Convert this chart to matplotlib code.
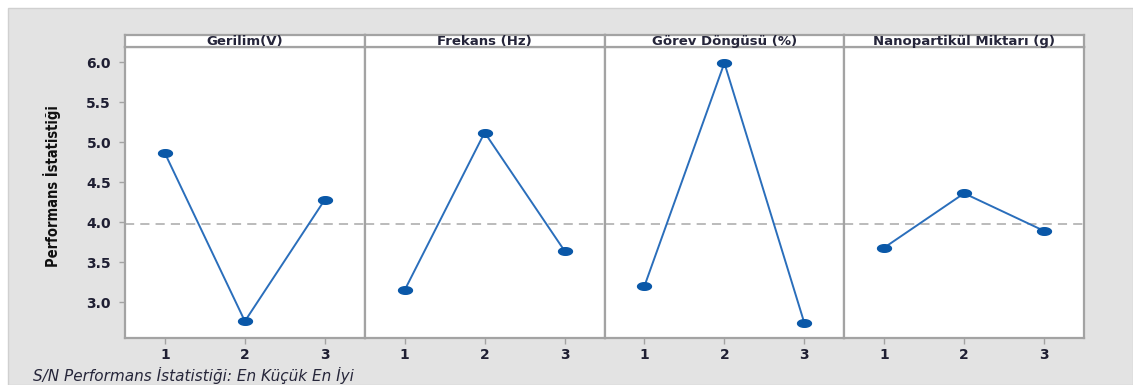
import numpy as np
import matplotlib
matplotlib.use("Agg")
import matplotlib.pyplot as plt
from matplotlib.path import Path
from matplotlib.patches import Rectangle

# Factor names and level labels
factors = ["Gerilim(V)", "Frekans (Hz)", "Görev Döngüsü (%)", "Nanopartikül Miktarı (g)"]
levels = [1, 2, 3]

# Mean S/N ratio per factor level
sn_gerilim = [4.86, 2.76, 4.28]
sn_frekans = [3.15, 5.12, 3.64]
sn_gorev = [3.20, 5.99, 2.74]
sn_nano = [3.68, 4.36, 3.89]
series = [sn_gerilim, sn_frekans, sn_gorev, sn_nano]

y_ticks = [3.0, 3.5, 4.0, 4.5, 5.0, 5.5, 6.0]
y_label = "Performans İstatistiği"
footer = "S/N Performans İstatistiği: En Küçük En İyi"

grand_mean = np.mean([v for s in series for v in s])

W, H = 1133, 385
fig = plt.figure(figsize=(W / 100, H / 100), dpi=100)
fig.patch.set_facecolor("white")

# grey panel background
bg = Rectangle((8 / W, 0), 1 - 8 / W, 1 - 8 / H, transform=fig.transFigure,
               facecolor="#e3e3e3", edgecolor="#d0d0d0", lw=1.0, zorder=-10)
fig.patches.append(bg)

frame_col = "#a3a3a3"
line_col = "#2a6ebb"
mark_col = "#0a58a8"
tick_col = "#1f1f33"

# horizontal ellipse marker
t = np.linspace(0, 2 * np.pi, 40)
ell = Path(np.column_stack([np.cos(t), 0.55 * np.sin(t)]), closed=True)

left_px, right_px = 125, 1084
bot_px, top_px, strip_top_px = 338, 47, 35
pw = (right_px - left_px) / 4

for i, (name, vals) in enumerate(zip(factors, series)):
    x0 = (left_px + i * pw) / W
    ax = fig.add_axes([x0, 1 - bot_px / H, pw / W, (bot_px - top_px) / H])
    ax.set_facecolor("white")
    ax.plot(levels, vals, color=line_col, lw=1.4, zorder=3)
    ax.plot(levels, vals, ls="none", marker=ell, ms=10, color=mark_col, zorder=4)
    ax.axhline(grand_mean, color="#a8a8a8", lw=1.1, ls=(0, (6, 4)), zorder=2)
    ax.set_xlim(0.5, 3.5)
    ax.set_ylim(2.55, 6.19)
    ax.set_xticks(levels)
    ax.set_xticklabels([str(l) for l in levels])
    ax.set_yticks(y_ticks)
    ax.set_yticklabels([f"{v:.1f}" for v in y_ticks])
    for sp in ax.spines.values():
        sp.set_color(frame_col)
        sp.set_linewidth(1.6)
    ax.tick_params(axis="both", colors=frame_col, length=4, width=1,
                   labelcolor=tick_col, labelsize=10, pad=6)
    ax.tick_params(axis="x", pad=3)
    for lab in ax.get_xticklabels() + ax.get_yticklabels():
        lab.set_fontweight("bold")
        lab.set_fontfamily("DejaVu Sans")
    if i > 0:
        ax.tick_params(axis="y", left=False, labelleft=False)

    # strip with factor name
    sax = fig.add_axes([x0, 1 - top_px / H, pw / W, (top_px - strip_top_px) / H])
    sax.set_facecolor("white")
    sax.set_xticks([])
    sax.set_yticks([])
    for sp in sax.spines.values():
        sp.set_color(frame_col)
        sp.set_linewidth(1.6)
    sax.text(0.5, 0.45, name, ha="center", va="center", fontsize=9.5,
             fontweight="bold", family="DejaVu Sans", color="#25253a",
             transform=sax.transAxes)

fig.text(52 / W, 1 - 186 / H, y_label, rotation=90, ha="center", va="center",
         fontsize=10.5, fontweight="bold", fontstretch="condensed",
         family="DejaVu Sans", color="#111111")

fig.text(33 / W, 1 - 375 / H, footer, ha="left", va="center", fontsize=11,
         style="italic", family="DejaVu Sans", color="#26263a")

fig.savefig("out.png", dpi=100, facecolor=fig.get_facecolor())
